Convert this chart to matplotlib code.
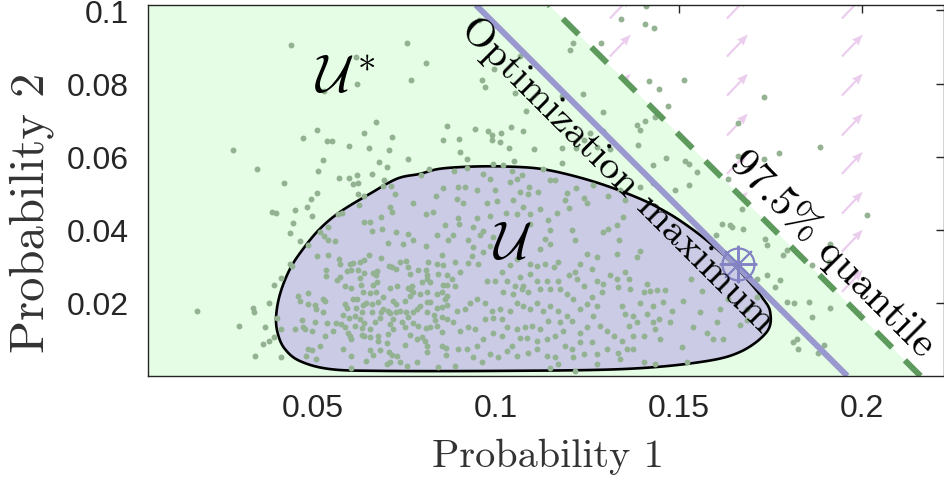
import numpy as np
import matplotlib
matplotlib.use("Agg")
import matplotlib.pyplot as plt
from matplotlib.patches import Polygon

plt.rcParams['mathtext.fontset'] = 'cm'
plt.rcParams['lines.scale_dashes'] = False

# ---------------- data ----------------
x_ticks = [0.05, 0.1, 0.15, 0.2]
x_tick_labels = ['0.05', '0.1', '0.15', '0.2']
y_ticks = [0.02, 0.04, 0.06, 0.08, 0.1]
y_tick_labels = ['0.02', '0.04', '0.06', '0.08', '0.1']
x_range = (0.0049, 0.2224)
y_range = (0.0, 0.1015)

opt_level = 0.196        # x + y = opt_level  (optimization maximum)
quantile_level = 0.216   # x + y = quantile_level (97.5% quantile)
opt_point = (0.1661, 0.0307)

# outline of the set U
u_outline_x = [0.1011, 0.1347, 0.1557, 0.1667, 0.1740, 0.1749, 0.1727, 0.1690,
               0.1639, 0.1571, 0.1503, 0.1448, 0.1393, 0.1303, 0.1210, 0.1120,
               0.1030, 0.0937, 0.0847, 0.0792, 0.0730, 0.0656, 0.0574, 0.0519,
               0.0473, 0.0437, 0.0410, 0.0399, 0.0404, 0.0423, 0.0464, 0.0546,
               0.0683]
u_outline_y = [0.0014, 0.0019, 0.0038, 0.0066, 0.0121, 0.0175, 0.0215, 0.0260,
               0.0315, 0.0375, 0.0425, 0.0458, 0.0485, 0.0520, 0.0548, 0.0567,
               0.0573, 0.0573, 0.0567, 0.0553, 0.0540, 0.0499, 0.0449, 0.0403,
               0.0348, 0.0293, 0.0225, 0.0162, 0.0115, 0.0074, 0.0041, 0.0019,
               0.0014]

# background gradient arrows (grid positions and direction)
arrow_cols = [0.0044, 0.0361, 0.0678, 0.0995, 0.1311, 0.1631, 0.1945]
arrow_rows = [0.0014, 0.0121, 0.0230, 0.0340, 0.0444, 0.0553, 0.0658, 0.0767, 0.0874, 0.0978]
arrow_dx = 0.0057
arrow_dy = 0.0060

# sampled points (x, y)
samples_left_upper = [
    (0.0281, 0.0618), (0.0346, 0.0565), (0.0421, 0.0527), (0.0472, 0.0650), (0.0510, 0.0673),
    (0.0537, 0.0643), (0.0552, 0.0644), (0.0527, 0.0592), (0.0513, 0.0562), (0.0510, 0.0501),
    (0.0495, 0.0484), (0.0483, 0.0461), (0.0450, 0.0453), (0.0387, 0.0448), (0.0399, 0.0446),
    (0.0444, 0.0419), (0.0497, 0.0437), (0.0438, 0.0390), (0.0465, 0.0369), (0.0519, 0.0394),
    (0.0540, 0.0407), (0.0531, 0.0383), (0.0541, 0.0373), (0.0560, 0.0369), (0.0486, 0.0359),
    (0.0569, 0.0443), (0.0580, 0.0446), (0.0597, 0.0628), (0.0638, 0.0666), (0.0671, 0.0695),
    (0.0715, 0.0653), (0.0654, 0.0624), (0.0707, 0.0617), (0.0759, 0.0593), (0.0680, 0.0585),
    (0.0703, 0.0572), (0.0695, 0.0536), (0.0660, 0.0552), (0.0621, 0.0550), (0.0597, 0.0542),
    (0.0570, 0.0543), (0.0610, 0.0526), (0.0622, 0.0528), (0.0690, 0.0519), (0.0712, 0.0519),
    (0.0724, 0.0499), (0.0622, 0.0499), (0.0638, 0.0492), (0.0626, 0.0467), (0.0638, 0.0421),
    (0.0656, 0.0421), (0.0686, 0.0435), (0.0662, 0.0397), (0.0688, 0.0403), (0.0709, 0.0462),
    (0.0715, 0.0449), (0.0774, 0.0474), (0.0795, 0.0549), (0.0817, 0.0567), (0.0808, 0.0442),
    (0.0829, 0.0448), (0.0836, 0.0493), (0.0840, 0.0385), (0.0706, 0.0365), (0.0726, 0.0393),
    (0.0746, 0.0362), (0.0759, 0.0389), (0.0773, 0.0373), (0.0809, 0.0356),
    (0.0441, 0.0905), (0.0616, 0.0873), (0.0621, 0.0800), (0.0757, 0.0912), (0.0808, 0.0855),
    (0.0767, 0.0809), (0.0953, 0.0974), (0.0995, 0.0841), (0.0961, 0.0811), (0.0970, 0.0791),
    (0.1053, 0.0773), (0.1065, 0.0876), (0.0531, 0.0779), (0.0182, 0.0177),
]
samples_mid_upper = [
    (0.0867, 0.0685), (0.0854, 0.0645), (0.0899, 0.0648), (0.0902, 0.0613), (0.0943, 0.0675),
    (0.0977, 0.0671), (0.0988, 0.0659), (0.1013, 0.0665), (0.0990, 0.0645), (0.1011, 0.0641),
    (0.1040, 0.0682), (0.1073, 0.0669), (0.1036, 0.0625), (0.1082, 0.0725), (0.1105, 0.0622),
    (0.0993, 0.0581), (0.1020, 0.0577), (0.1050, 0.0588), (0.0922, 0.0595), (0.0886, 0.0560),
    (0.0920, 0.0569), (0.0965, 0.0554), (0.0984, 0.0540), (0.1043, 0.0561), (0.1070, 0.0551),
    (0.1058, 0.0540), (0.1038, 0.0531), (0.0854, 0.0515), (0.0897, 0.0517), (0.0915, 0.0516),
    (0.0949, 0.0508), (0.0997, 0.0508), (0.1066, 0.0504), (0.1091, 0.0517), (0.1088, 0.0499),
    (0.1116, 0.0504), (0.1148, 0.0536), (0.1161, 0.0536), (0.1129, 0.0565), (0.1180, 0.0584),
    (0.1181, 0.0625), (0.1219, 0.0624), (0.1239, 0.0645), (0.1275, 0.0627), (0.1291, 0.0671),
    (0.1291, 0.0723), (0.1219, 0.0515), (0.1239, 0.0487), (0.1248, 0.0474), (0.1193, 0.0502),
    (0.1189, 0.0481), (0.1166, 0.0447), (0.1200, 0.0460), (0.1120, 0.0458), (0.1093, 0.0444),
    (0.1056, 0.0442), (0.1026, 0.0446), (0.1047, 0.0481), (0.1075, 0.0463), (0.1002, 0.0478),
    (0.0974, 0.0474), (0.0984, 0.0437), (0.0947, 0.0431), (0.0911, 0.0474), (0.0893, 0.0484),
    (0.0897, 0.0431), (0.0861, 0.0412), (0.0900, 0.0415), (0.0938, 0.0408), (0.0964, 0.0397),
    (0.0993, 0.0380), (0.0956, 0.0385), (0.0924, 0.0371), (0.0883, 0.0385), (0.0870, 0.0371),
    (0.1093, 0.0417), (0.1143, 0.0426), (0.1148, 0.0399), (0.1134, 0.0376), (0.1207, 0.0399),
    (0.1216, 0.0371), (0.1266, 0.0522), (0.1307, 0.0493), (0.1339, 0.0508), (0.1352, 0.0481),
    (0.1346, 0.0435), (0.1330, 0.0412), (0.1293, 0.0394), (0.1307, 0.0403), (0.1384, 0.0686),
    (0.1393, 0.0673), (0.1407, 0.0697), (0.1433, 0.0709), (0.1389, 0.0633), (0.1393, 0.0517),
    (0.1430, 0.0529), (0.1336, 0.0371),
]
samples_left_edge = [
    (0.0437, 0.0307), (0.0442, 0.0300), (0.0413, 0.0267), (0.0394, 0.0249), (0.0380, 0.0201),
    (0.0335, 0.0186), (0.0339, 0.0174), (0.0299, 0.0138), (0.0369, 0.0135), (0.0401, 0.0159),
    (0.0412, 0.0128), (0.0394, 0.0108), (0.0380, 0.0096), (0.0363, 0.0087), (0.0342, 0.0055),
    (0.0412, 0.0051),
]
samples_left_lower = [
    (0.0510, 0.0328), (0.0540, 0.0330), (0.0572, 0.0319), (0.0574, 0.0307), (0.0601, 0.0307),
    (0.0610, 0.0308), (0.0628, 0.0313), (0.0639, 0.0316), (0.0653, 0.0332), (0.0685, 0.0322),
    (0.0708, 0.0301), (0.0715, 0.0298), (0.0738, 0.0313), (0.0754, 0.0315), (0.0760, 0.0298),
    (0.0788, 0.0291), (0.0809, 0.0291), (0.0813, 0.0311), (0.0838, 0.0307), (0.0851, 0.0330),
    (0.0856, 0.0304), (0.0842, 0.0280), (0.0865, 0.0277), (0.0535, 0.0291), (0.0535, 0.0273),
    (0.0565, 0.0264), (0.0574, 0.0270), (0.0592, 0.0286), (0.0605, 0.0291), (0.0624, 0.0291),
    (0.0639, 0.0282), (0.0663, 0.0282), (0.0676, 0.0286), (0.0672, 0.0275), (0.0728, 0.0293),
    (0.0765, 0.0280), (0.0587, 0.0246), (0.0603, 0.0240), (0.0628, 0.0268), (0.0630, 0.0249),
    (0.0663, 0.0249), (0.0674, 0.0257), (0.0730, 0.0246), (0.0710, 0.0240), (0.0760, 0.0240),
    (0.0769, 0.0246), (0.0797, 0.0257), (0.0812, 0.0266), (0.0820, 0.0257), (0.0856, 0.0249),
    (0.0865, 0.0248), (0.0810, 0.0277),
    (0.0460, 0.0220), (0.0464, 0.0204), (0.0487, 0.0227), (0.0528, 0.0211), (0.0533, 0.0206),
    (0.0487, 0.0197), (0.0505, 0.0193), (0.0508, 0.0184), (0.0526, 0.0175), (0.0587, 0.0197),
    (0.0592, 0.0185), (0.0610, 0.0211), (0.0619, 0.0211), (0.0637, 0.0229), (0.0656, 0.0227),
    (0.0672, 0.0229), (0.0646, 0.0200), (0.0660, 0.0197), (0.0678, 0.0202), (0.0692, 0.0216),
    (0.0719, 0.0206), (0.0728, 0.0197), (0.0751, 0.0206), (0.0765, 0.0220), (0.0774, 0.0229),
    (0.0765, 0.0238), (0.0792, 0.0225), (0.0810, 0.0229), (0.0820, 0.0202), (0.0838, 0.0225),
    (0.0851, 0.0229), (0.0860, 0.0211), (0.0867, 0.0220), (0.0865, 0.0193), (0.0851, 0.0188),
    (0.0838, 0.0185), (0.0810, 0.0202), (0.0792, 0.0191), (0.0810, 0.0175), (0.0830, 0.0167),
    (0.0851, 0.0161), (0.0865, 0.0156), (0.0833, 0.0152), (0.0617, 0.0185), (0.0633, 0.0175),
    (0.0637, 0.0193), (0.0615, 0.0165), (0.0628, 0.0156), (0.0639, 0.0145), (0.0660, 0.0176),
    (0.0685, 0.0176), (0.0706, 0.0179), (0.0692, 0.0184), (0.0710, 0.0173), (0.0728, 0.0176),
    (0.0738, 0.0179), (0.0754, 0.0176), (0.0774, 0.0176), (0.0783, 0.0182), (0.0760, 0.0161),
    (0.0742, 0.0149), (0.0719, 0.0156), (0.0710, 0.0143), (0.0683, 0.0158), (0.0669, 0.0147),
    (0.0656, 0.0129), (0.0633, 0.0131), (0.0615, 0.0138), (0.0599, 0.0158), (0.0583, 0.0167),
    (0.0575, 0.0143), (0.0563, 0.0145), (0.0537, 0.0145), (0.0505, 0.0149), (0.0469, 0.0154),
    (0.0473, 0.0133), (0.0451, 0.0129), (0.0478, 0.0129), (0.0496, 0.0122), (0.0533, 0.0109),
    (0.0555, 0.0124), (0.0587, 0.0133), (0.0596, 0.0118), (0.0601, 0.0109), (0.0605, 0.0101),
    (0.0633, 0.0112), (0.0639, 0.0109), (0.0656, 0.0106), (0.0678, 0.0109), (0.0706, 0.0115),
    (0.0719, 0.0129), (0.0751, 0.0133), (0.0774, 0.0145), (0.0788, 0.0138), (0.0809, 0.0131),
    (0.0820, 0.0133), (0.0838, 0.0136), (0.0851, 0.0120), (0.0765, 0.0112), (0.0783, 0.0101),
    (0.0797, 0.0106), (0.0806, 0.0097), (0.0751, 0.0085), (0.0703, 0.0091), (0.0678, 0.0097),
    (0.0487, 0.0074), (0.0496, 0.0070), (0.0519, 0.0083), (0.0581, 0.0074), (0.0656, 0.0070),
    (0.0683, 0.0070), (0.0708, 0.0065), (0.0715, 0.0058), (0.0730, 0.0056), (0.0810, 0.0081),
    (0.0810, 0.0065), (0.0851, 0.0083), (0.0863, 0.0076), (0.0863, 0.0058), (0.0481, 0.0056),
    (0.0508, 0.0047), (0.0605, 0.0056), (0.0646, 0.0042), (0.0665, 0.0058), (0.0701, 0.0033),
    (0.0710, 0.0038), (0.0738, 0.0038), (0.0756, 0.0028), (0.0783, 0.0038), (0.0842, 0.0024),
    (0.0605, 0.0021),
]
samples_mid_lower = [
    (0.0888, 0.0311), (0.0902, 0.0284), (0.0938, 0.0352), (0.0934, 0.0329),
    (0.0965, 0.0340), (0.0984, 0.0357), (0.0952, 0.0307), (0.0924, 0.0309), (0.0975, 0.0261),
    (0.0997, 0.0261), (0.1015, 0.0284), (0.1038, 0.0304), (0.1056, 0.0320), (0.1093, 0.0307),
    (0.1120, 0.0348), (0.1148, 0.0361), (0.1170, 0.0311), (0.1157, 0.0297), (0.1134, 0.0307),
    (0.1111, 0.0302), (0.1093, 0.0279), (0.1066, 0.0270), (0.1075, 0.0247), (0.1052, 0.0247),
    (0.1029, 0.0261), (0.1020, 0.0229), (0.1047, 0.0224), (0.1070, 0.0238), (0.1088, 0.0229),
    (0.1111, 0.0261), (0.1120, 0.0238), (0.1138, 0.0261), (0.1148, 0.0238), (0.1170, 0.0261),
    (0.1175, 0.0238), (0.1198, 0.0275), (0.1193, 0.0224), (0.1220, 0.0265), (0.1239, 0.0247),
    (0.1211, 0.0211), (0.1230, 0.0183), (0.1248, 0.0197), (0.1261, 0.0215), (0.1275, 0.0192),
    (0.1275, 0.0261), (0.1293, 0.0252), (0.1289, 0.0229), (0.1311, 0.0275), (0.1330, 0.0265),
    (0.1334, 0.0243), (0.1352, 0.0284), (0.1362, 0.0265), (0.1366, 0.0238), (0.1343, 0.0192),
    (0.1352, 0.0170), (0.1375, 0.0165), (0.1393, 0.0201), (0.1403, 0.0229), (0.1421, 0.0233),
    (0.1430, 0.0192), (0.1412, 0.0170), (0.1430, 0.0147), (0.1384, 0.0147), (0.1362, 0.0138),
    (0.1375, 0.0110), (0.1403, 0.0110), (0.1343, 0.0096), (0.1321, 0.0110), (0.1302, 0.0124),
    (0.1284, 0.0138), (0.1266, 0.0165), (0.1248, 0.0133), (0.1230, 0.0119), (0.1207, 0.0151),
    (0.1193, 0.0165), (0.1175, 0.0147), (0.1170, 0.0179), (0.1148, 0.0192), (0.1129, 0.0179),
    (0.1111, 0.0201), (0.1093, 0.0183), (0.1075, 0.0192), (0.1056, 0.0201), (0.1038, 0.0179),
    (0.1011, 0.0183), (0.0988, 0.0179), (0.0970, 0.0201), (0.0947, 0.0211), (0.0929, 0.0201),
    (0.0915, 0.0183), (0.0893, 0.0179), (0.0883, 0.0147),
    (0.0902, 0.0124), (0.0924, 0.0133), (0.0943, 0.0128), (0.0970, 0.0156), (0.0993, 0.0160),
    (0.1015, 0.0156), (0.1029, 0.0133), (0.1056, 0.0128), (0.1079, 0.0133), (0.1097, 0.0138),
    (0.1120, 0.0128), (0.1143, 0.0151), (0.1161, 0.0110), (0.1184, 0.0124), (0.1138, 0.0101),
    (0.1111, 0.0096), (0.1084, 0.0105), (0.1066, 0.0105), (0.1043, 0.0083), (0.1015, 0.0110),
    (0.0993, 0.0119), (0.0965, 0.0101), (0.0947, 0.0083), (0.0920, 0.0074), (0.0897, 0.0074),
    (0.0888, 0.0028), (0.0938, 0.0051), (0.0961, 0.0037),
    (0.0984, 0.0060), (0.1006, 0.0051), (0.1029, 0.0069), (0.1056, 0.0055), (0.1088, 0.0064),
    (0.1111, 0.0074), (0.1138, 0.0055), (0.1161, 0.0051), (0.1189, 0.0083), (0.1207, 0.0074),
    (0.1230, 0.0092), (0.1261, 0.0092), (0.1275, 0.0060), (0.1302, 0.0074), (0.1334, 0.0064),
    (0.1357, 0.0074), (0.1375, 0.0074), (0.1211, 0.0051), (0.1239, 0.0060), (0.1170, 0.0032),
    (0.1148, 0.0023), (0.1216, 0.0014), (0.1275, 0.0032), (0.1339, 0.0046), (0.1403, 0.0037),
    (0.0888, 0.0247), (0.0879, 0.0265),
    (0.1393, 0.0343), (0.1384, 0.0325), (0.1330, 0.0334), (0.1412, 0.0252), (0.1275, 0.0325),
    (0.1248, 0.0334), (0.1261, 0.0293), (0.1230, 0.0307), (0.1216, 0.0284),
]
samples_right = [
    (0.1660, 0.0691), (0.1885, 0.0627), (0.1772, 0.0611), (0.1662, 0.0601), (0.1731, 0.0595),
    (0.1465, 0.0597), (0.1515, 0.0588), (0.1528, 0.0581), (0.1549, 0.0558), (0.1430, 0.0577),
    (0.1489, 0.0510), (0.1528, 0.0522), (0.1635, 0.0540), (0.1685, 0.0476), (0.1671, 0.0458),
    (0.1617, 0.0417), (0.1640, 0.0412), (0.1644, 0.0408), (0.1676, 0.0403), (0.1600, 0.0385),
    (0.1735, 0.0376), (0.1740, 0.0359), (0.1785, 0.0330), (0.1794, 0.0344), (0.1913, 0.0362),
    (0.2013, 0.0440), (0.1911, 0.0312), (0.1863, 0.0303), (0.1740, 0.0275), (0.1776, 0.0262),
    (0.1763, 0.0243), (0.1712, 0.0266), (0.1712, 0.0216), (0.1794, 0.0202), (0.1814, 0.0200),
    (0.1854, 0.0202), (0.1913, 0.0187), (0.1863, 0.0161), (0.1822, 0.0102), (0.1811, 0.0093),
    (0.1826, 0.0074), (0.1895, 0.0084), (0.1881, 0.0063), (0.1649, 0.0312), (0.1640, 0.0316),
    (0.1562, 0.0232), (0.1533, 0.0266), (0.1512, 0.0204), (0.1480, 0.0177), (0.1539, 0.0134),
    (0.1576, 0.0118), (0.1594, 0.0102), (0.1621, 0.0102), (0.1508, 0.0079), (0.1435, 0.0129),
    (0.1448, 0.0102), (0.1435, 0.0033), (0.1521, 0.0038), (0.1476, 0.0148), (0.1457, 0.0202),
    (0.1439, 0.0234), (0.1462, 0.0234), (0.1444, 0.0157), (0.1685, 0.0184), (0.1685, 0.0152),
    (0.1603, 0.0148), (0.1612, 0.0184), (0.1667, 0.0139), (0.1635, 0.0211), (0.1558, 0.0175),
    (0.1411, 0.1013), (0.1341, 0.0978), (0.1407, 0.0962), (0.1431, 0.0953), (0.1209, 0.0912),
    (0.1202, 0.0893), (0.1286, 0.0912), (0.1418, 0.0806), (0.1446, 0.0786), (0.1514, 0.0809),
    (0.1733, 0.0762), (0.1469, 0.0738), (0.1238, 0.0771), (0.1179, 0.0766), (0.1257, 0.0665),
    (0.1311, 0.0622),
]

# ---------------- colours ----------------
c_green_fill = '#e5fde5'
c_u_fill = '#cbcbe6'
c_points = '#92b292'
c_opt = '#9999cf'
c_quant = '#5e9a5e'
c_arrow = '#ebcdee'
c_marker = '#8282c4'

# ---------------- figure ----------------
fig = plt.figure(figsize=(9.45, 4.85), dpi=100)
ax = fig.add_axes([148 / 945, 1 - 377 / 485, (944 - 148) / 945, (377 - 6) / 485])
ax.set_xlim(*x_range)
ax.set_ylim(*y_range)
ax.set_axisbelow(True)

# arrows (below the green region)
QX, QY = np.meshgrid(arrow_cols, arrow_rows)
ax.quiver(QX, QY, np.full(QX.shape, arrow_dx), np.full(QX.shape, arrow_dy),
          angles='xy', scale_units='xy', scale=1, color=c_arrow,
          width=0.0028, headwidth=4, headlength=5, headaxislength=4.5, zorder=0.8)

# green region x + y <= quantile level
y0, y1 = y_range
x0 = x_range[0]
green = Polygon([(x0, y0), (quantile_level - y0, y0), (quantile_level - y1, y1), (x0, y1)],
                closed=True, facecolor=c_green_fill, edgecolor='none', zorder=1)
ax.add_patch(green)


def closed_spline(xs, ys, n=24):
    pts = np.column_stack([xs, ys])
    N = len(pts)
    t = np.linspace(0, 1, n, endpoint=False)[:, None]
    out = []
    for i in range(N):
        p0, p1, p2, p3 = pts[i - 1], pts[i], pts[(i + 1) % N], pts[(i + 2) % N]
        out.append(0.5 * (2 * p1 + (-p0 + p2) * t + (2 * p0 - 5 * p1 + 4 * p2 - p3) * t ** 2
                          + (-p0 + 3 * p1 - 3 * p2 + p3) * t ** 3))
    return np.vstack(out)


u_curve = closed_spline(u_outline_x, u_outline_y)
ax.add_patch(Polygon(u_curve, closed=True, facecolor=c_u_fill, edgecolor='black',
                     linewidth=1.9, zorder=2))

pts = np.array(samples_left_upper + samples_mid_upper + samples_left_edge
               + samples_left_lower + samples_mid_lower + samples_right)
ax.scatter(pts[:, 0], pts[:, 1], s=18, color=c_points, linewidths=0, zorder=3)

# optimisation line and quantile line
ax.plot([opt_level - y0, opt_level - y1], [y0, y1], color=c_opt, lw=4.3,
        solid_capstyle='butt', zorder=4)
ax.plot([quantile_level - y0, quantile_level - y1], [y0, y1], color=c_quant, lw=4.3,
        dashes=(16, 13), dash_capstyle='butt', zorder=4)

# optimum marker
ax.plot([opt_point[0]], [opt_point[1]], marker='o', ms=23, mfc='none', mec=c_marker,
        mew=1.6, zorder=5)
ax.plot([opt_point[0]], [opt_point[1]], marker=(8, 2, 0), ms=27, mec=c_marker,
        mew=1.4, zorder=5)

# annotations
ax.text(0.0587, 0.0819, r'$\mathcal{U}^*$', fontsize=38, ha='center', va='center', zorder=6)
ax.text(0.1046, 0.0364, r'$\mathcal{U}$', fontsize=38, ha='center', va='center', zorder=6)
ax.text(0.1333, 0.0551, 'Optimization maximum', family='cmr10', fontsize=29.5,
        rotation=-45, rotation_mode='anchor', ha='center', va='center', zorder=6)
ax.text(0.1921, 0.0337, '97.5% quantile', family='cmr10', fontsize=30.5,
        rotation=-45, rotation_mode='anchor', ha='center', va='center', zorder=6)

# axes styling
ax.set_xticks(x_ticks)
ax.set_xticklabels(x_tick_labels)
ax.set_yticks(y_ticks)
ax.set_yticklabels(y_tick_labels)
ax.tick_params(direction='in', top=True, right=True, length=6, width=1.0,
               color='#262626', labelsize=23, pad=14)
for lab in ax.get_xticklabels() + ax.get_yticklabels():
    lab.set_family('Liberation Sans')
    lab.set_color('#262626')
ax.tick_params(axis='x', pad=12)
for sp in ax.spines.values():
    sp.set_color('#262626')
    sp.set_linewidth(1.0)
    sp.set_zorder(7)

fig.text(548 / 945, 1 - 457 / 485, 'Probability 1', family='cmr10', fontsize=29,
         ha='center', va='center', color='#333333')
fig.text(32 / 945, 1 - 213 / 485, 'Probability 2', family='cmr10', fontsize=35,
         ha='center', va='center', rotation=90, color='#333333')

fig.savefig('out.png', dpi=100)
